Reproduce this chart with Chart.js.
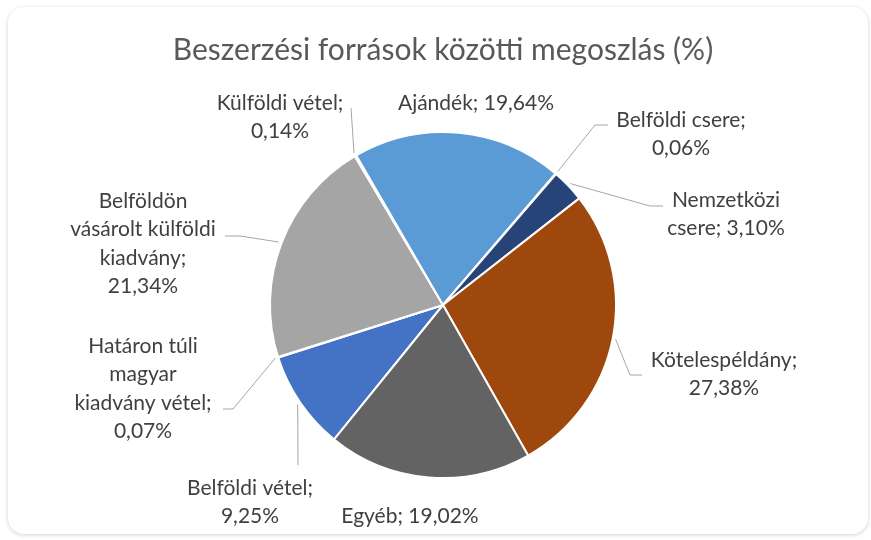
<!doctype html>
<html>

<head>
    <title>Beszerzési források</title>
    <meta charset="utf-8" />
    <script src="https://cdn.jsdelivr.net/npm/chart.js@4.4.0/dist/chart.umd.min.js"></script>
    <style>
        body { margin: 0; background: #fff; }
        #kaart {
            position: absolute; left: 8px; top: 7px; width: 860px; height: 527px;
            border-radius: 16px; background: #fff;
            box-shadow: 0 1px 4px rgba(0, 0, 0, 0.18);
        }
        #joonisekiht { position: absolute; left: 0; top: 0; }
    </style>
    <script>
        // andmed
        const kategooriad = ['Belföldi vétel', 'Határon túli magyar kiadvány vétel', 'Belföldön vásárolt külföldi kiadvány',
            'Külföldi vétel', 'Ajándék', 'Belföldi csere', 'Nemzetközi csere', 'Kötelespéldány', 'Egyéb'];
        const osakaal = [9.25, 0.07, 21.34, 0.14, 19.64, 0.06, 3.10, 27.38, 19.02];
        const varvid = ['#4472C4', '#ED7D31', '#A5A5A5', '#FFC000', '#5B9BD5', '#70AD47', '#264478', '#9E480E', '#636363'];

        // siltide paigutus: sõnade arv ridades, esimese rea keskpunkt, juhtjoone murdepunktid
        const sildid = [
            { read: [2, 1], x: 250, y: 488, joon: [[298, 465]] },
            { read: [2, 1, 2, 1], x: 143, y: 346, joon: [[223, 409], [233, 409]] },
            { read: [1, 2, 1, 1], x: 143, y: 201, joon: [[225, 236], [240, 236]] },
            { read: [2, 1], x: 280, y: 103, joon: [[351, 108]] },
            { read: [2], x: 476, y: 103, joon: null },
            { read: [2, 1], x: 681, y: 120, joon: [[608, 125], [595, 125]] },
            { read: [1, 2], x: 726, y: 200, joon: [[663, 206], [650, 206]] },
            { read: [1, 1], x: 724, y: 360, joon: [[642, 375], [630, 375]] },
            { read: [2], x: 410, y: 516, joon: null }
        ];
        const reaKorgus = 28.5;

        function protsent(v) {
            return v.toFixed(2).replace('.', ',') + '%';
        }

        const siltidePlugin = {
            id: 'sildid',
            afterDatasetsDraw(chart) {
                const ctx = chart.ctx;
                const kaared = chart.getDatasetMeta(0).data;
                ctx.save();
                kaared.forEach(function (kaar, i) {
                    const s = sildid[i];
                    const p = kaar.getProps(['x', 'y', 'startAngle', 'endAngle', 'outerRadius'], true);
                    const kesk = (p.startAngle + p.endAngle) / 2;
                    if (s.joon) {
                        ctx.strokeStyle = '#A6A6A6';
                        ctx.lineWidth = 1;
                        ctx.beginPath();
                        ctx.moveTo(s.joon[0][0], s.joon[0][1]);
                        for (let k = 1; k < s.joon.length; k++) ctx.lineTo(s.joon[k][0], s.joon[k][1]);
                        ctx.lineTo(p.x + (p.outerRadius + 3) * Math.cos(kesk), p.y + (p.outerRadius + 3) * Math.sin(kesk));
                        ctx.stroke();
                    }
                    const sonad = (kategooriad[i] + '; ' + protsent(osakaal[i])).split(' ');
                    ctx.fillStyle = '#404040';
                    ctx.font = '400 21px Lato';
                    ctx.textAlign = 'center';
                    ctx.textBaseline = 'middle';
                    let n = 0;
                    s.read.forEach(function (arv, r) {
                        ctx.fillText(sonad.slice(n, n + arv).join(' '), s.x, s.y + r * reaKorgus);
                        n += arv;
                    });
                });
                ctx.restore();
            }
        };

        window.onload = function () {
            new Chart(document.getElementById('joonisekiht'), {
                type: 'pie',
                data: {
                    labels: kategooriad,
                    datasets: [{
                        data: osakaal,
                        backgroundColor: varvid,
                        borderColor: '#ffffff',
                        borderWidth: 2
                    }]
                },
                options: {
                    responsive: false,
                    animation: false,
                    devicePixelRatio: 1,
                    rotation: 219,
                    radius: 173,
                    layout: { padding: { left: 15, right: 0, top: 0, bottom: 61 } },
                    plugins: {
                        legend: { display: false },
                        tooltip: { enabled: false },
                        title: {
                            display: true,
                            text: 'Beszerzési források közötti megoszlás (%)',
                            color: '#595959',
                            font: { family: 'Lato', size: 30, weight: '400' },
                            padding: { top: 32, bottom: 63 }
                        }
                    }
                },
                plugins: [siltidePlugin]
            });
        };
    </script>
</head>

<body>
    <div id="kaart"></div>
    <canvas id="joonisekiht" width="871" height="540"></canvas>
</body>

</html>
